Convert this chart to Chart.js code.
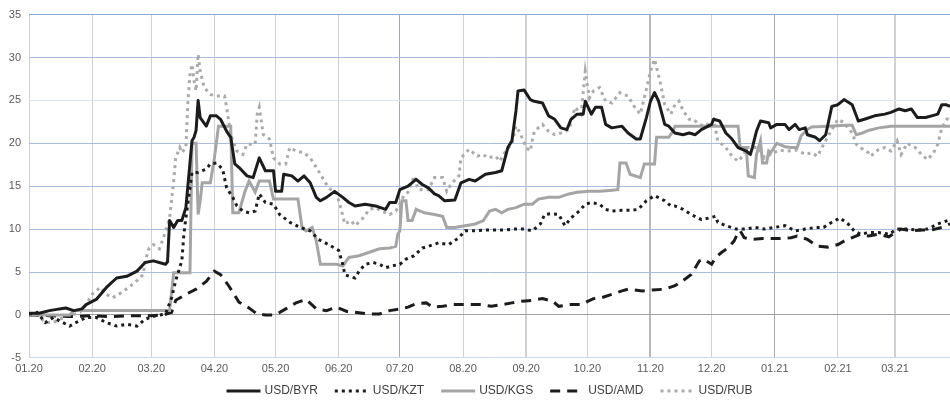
<!DOCTYPE html>
<html>
<head>
<meta charset="utf-8">
<script src="https://cdn.jsdelivr.net/npm/chart.js@4.4.1/dist/chart.umd.min.js"></script>
<style>
html, body { margin: 0; padding: 0; background: #fff; }
</style>
</head>
<body>
<canvas id="ratesChart" width="950" height="400"></canvas>
<script>
// month ticks: day index from 01.01.2020
const monthLabels = ['01.20', '02.20', '03.20', '04.20', '05.20', '06.20', '07.20', '08.20', '09.20', '10.20', '11.20', '12.20', '01.21', '02.21', '03.21'];
const monthDays = [0, 31, 60, 91, 121, 152, 182, 213, 244, 274, 305, 335, 366, 397, 425];
const seriesNames = ['USD/BYR', 'USD/KZT', 'USD/KGS', 'USD/AMD', 'USD/RUB'];

// [day, % change]
const usdByr = [[0,0.2],[5,0.2],[10,0.5],[15,0.7],[18,0.8],[22,0.5],[26,0.7],[28,1.2],[33,1.8],[38,3.2],[43,4.3],[48,4.5],[53,5.1],[57,6.1],[61,6.3],[67,5.9],[68,6.2],[69,11],[71,10.2],[73,11],[75,11],[77,12.5],[80,20.3],[81,20.7],[82,21.5],[83,25],[84,23],[87,22],[89,23.2],[92,23.2],[94,22.8],[97,21.4],[99,20.7],[101,17.6],[103,17.2],[107,16.2],[110,16],[113,18.3],[116,16.8],[120,16.8],[121,14.4],[124,14.4],[125,16.4],[129,16.2],[132,15.6],[135,16.2],[138,15.4],[141,13.7],[143,13.3],[146,13.7],[150,14.4],[154,13.7],[157,13.1],[160,12.7],[165,12.9],[170,12.7],[175,12.3],[177,13.1],[180,13.1],[182,14.6],[186,15],[190,15.8],[193,15.2],[196,14.8],[199,14.1],[201,13.9],[204,13.3],[209,13.4],[212,15.4],[216,15.8],[219,15.6],[224,16.4],[229,16.6],[232,16.8],[235,19.5],[237,20.3],[239,23.8],[240,26.1],[243,26.2],[246,25.1],[248,24.9],[252,24.7],[255,23.2],[258,22.8],[261,21.8],[264,21.6],[266,22.8],[269,23.4],[272,23.4],[273,24.9],[276,23.4],[278,24.2],[281,24.2],[283,22.2],[286,21.8],[291,22],[294,21.2],[298,20.5],[300,20.5],[303,23],[305,24.9],[307,25.9],[309,24.9],[312,22.2],[314,22],[317,21.2],[321,21],[324,21.2],[327,21],[330,21.6],[335,22.2],[336,22.8],[339,22.6],[342,21.2],[345,20.5],[348,19.5],[352,19.1],[354,18.7],[355,19.5],[357,21.4],[359,22.6],[363,22.4],[364,21.8],[367,22.2],[371,22.2],[373,21.6],[376,22.2],[378,21.6],[381,21.8],[382,21],[386,20.7],[388,20.3],[391,21],[394,24.3],[397,24.5],[400,25.1],[404,24.5],[407,22.6],[410,22.8],[415,23.2],[420,23.4],[423,23.6],[427,24],[430,23.8],[433,24],[436,23],[440,23],[443,23.2],[446,23.4],[448,24.5],[450,24.5],[452,24.3]];

const usdKzt = [[0,0.1],[4,0.3],[8,-0.9],[12,-0.3],[15,-0.7],[20,-1.3],[23,-0.9],[28,-0.3],[33,-0.3],[38,-0.9],[43,-1.3],[48,-1.1],[53,-1.3],[57,-0.5],[62,-0.1],[67,0.1],[70,2],[72,4],[75,6.3],[76,9.4],[77,11.3],[79,14.8],[80,16.6],[83,16.6],[87,17],[89,17.6],[92,17.7],[95,17],[97,14.8],[100,13.7],[102,12.7],[105,12.1],[108,11.9],[111,12.1],[113,14.1],[116,13.1],[120,12.9],[123,11.7],[128,10.8],[133,10.2],[138,9.8],[142,8.8],[147,8.2],[152,7.5],[154,5.9],[155,4.7],[157,4.5],[160,4.3],[162,5.1],[165,5.9],[169,6.1],[172,5.9],[175,5.5],[178,5.7],[182,5.9],[185,6.5],[189,6.9],[193,7.8],[196,8],[201,8.4],[206,8.2],[211,9],[214,9.8],[219,9.8],[224,9.9],[229,9.9],[234,9.9],[238,10],[243,10],[247,9.8],[251,10.6],[253,11.7],[256,11.8],[260,11.7],[263,10.4],[266,11.3],[270,12.1],[273,12.9],[276,13.1],[280,12.9],[283,12.3],[286,12.1],[291,12.2],[296,12.2],[299,12.3],[303,13.3],[307,13.9],[312,13.3],[315,12.7],[317,12.7],[321,12.3],[325,11.7],[330,11.1],[334,11.3],[337,11.5],[338,10.8],[342,10.4],[347,10],[352,10],[356,10.2],[361,10],[366,10.2],[371,10.4],[376,9.8],[381,10],[386,10.2],[390,10.2],[394,10.8],[398,11.3],[402,10.6],[405,9.8],[408,9.4],[412,9.6],[417,9.6],[422,9.4],[426,10],[431,10],[436,9.9],[441,10],[446,10.6],[452,11.1]];

const usdKgs = [[0,0],[20,0],[22,0.5],[69,0.5],[71,4.9],[79,4.9],[80,20],[82,20],[83,11.7],[84,13.3],[85,15.4],[89,15.4],[91,18.3],[93,22],[99,22],[100,11.9],[103,11.9],[106,14.4],[108,15.6],[111,14.3],[113,15.6],[118,15.6],[120,13.5],[132,13.5],[134,10.2],[136,9.8],[139,10.2],[141,8.6],[143,5.9],[151,5.9],[154,5.7],[157,6.7],[162,6.9],[167,7.3],[172,7.7],[177,7.8],[180,8],[181,9.4],[182,9.8],[183,13.3],[185,13.3],[186,11],[188,11],[190,12.3],[194,11.9],[199,11.7],[203,11.5],[205,10.2],[209,10.2],[214,10.4],[219,10.6],[223,11],[226,12.1],[229,12.3],[232,11.9],[235,12.3],[239,12.5],[243,12.9],[247,12.9],[250,13.5],[255,13.7],[260,13.7],[265,14.1],[269,14.3],[275,14.4],[280,14.4],[285,14.5],[289,14.6],[290,17.7],[293,17.7],[295,16.4],[300,16],[302,17.6],[307,17.6],[308,20.7],[314,20.7],[316,21.4],[317,22],[348,22],[349,19.5],[352,19.5],[353,16.2],[356,16],[357,18.7],[359,20.3],[360,17.7],[362,17.7],[363,19.1],[364,18.9],[367,20],[371,19.6],[374,19.5],[377,19.5],[379,20.9],[382,21.6],[384,21.9],[392,22],[401,22.1],[404,22.1],[406,21],[409,21.2],[412,21.5],[417,21.8],[423,22],[452,22]];

const usdAmd = [[0,0],[10,-0.1],[20,-0.2],[30,-0.1],[40,-0.2],[50,-0.1],[60,-0.1],[66,0],[70,0.3],[72,1.7],[77,2.4],[82,3],[87,3.9],[91,5.1],[94,4.7],[98,3.4],[103,1.5],[108,0.8],[112,0.1],[116,0],[121,0],[126,0.7],[131,1.4],[136,1.8],[141,0.7],[146,0.5],[151,0.9],[156,0.4],[160,0.3],[167,0.1],[172,0.1],[177,0.5],[182,0.7],[186,0.9],[190,1.3],[195,1.4],[198,0.9],[203,1],[208,1.2],[212,1.2],[217,1.2],[222,1.2],[227,1],[232,1.2],[237,1.4],[242,1.6],[247,1.7],[252,1.9],[257,1.6],[260,1],[265,1.2],[271,1.2],[277,1.9],[281,2],[286,2.4],[291,2.8],[294,3],[301,2.8],[306,2.9],[312,3],[317,3.4],[321,4],[325,4.7],[327,5.5],[329,6.3],[331,6.5],[335,5.9],[337,6.7],[340,7.3],[343,7.8],[346,8.6],[348,9.6],[349,9.8],[351,9],[355,8.8],[360,8.9],[368,8.9],[374,9],[377,9.2],[382,8.8],[387,8],[392,7.9],[397,8.2],[400,8.6],[404,9],[408,9.4],[412,9.2],[417,9.4],[422,9.1],[425,9.6],[428,10],[433,9.8],[438,9.9],[443,9.9],[448,10.2],[452,10.6]];

const usdRub = [[0,0],[4,0],[8,-0.9],[12,-0.9],[15,-0.5],[20,-0.1],[25,0.3],[28,1.2],[31,2.4],[35,3.2],[38,2.4],[41,2],[44,2.4],[49,3.2],[53,4],[56,4.7],[57,6.3],[59,7.8],[61,8.2],[64,7.7],[66,9],[69,11.3],[71,15.6],[72,18.3],[74,19.5],[75,18.9],[77,19.5],[78,24.9],[79,28],[80,29.2],[81,27.3],[82,26.1],[83,30.4],[84,28.4],[86,26.5],[89,25.7],[92,25.5],[96,25.5],[97,24.2],[99,21],[102,19.1],[105,18.7],[107,19.9],[111,19.9],[112,23.4],[113,24.2],[115,21],[118,20.5],[120,18.3],[123,17.6],[126,17.6],[128,19.5],[131,19.1],[135,18.9],[138,18.3],[141,17.2],[144,16],[147,14.8],[151,14.1],[153,12.5],[155,10.6],[158,11],[160,10.4],[164,11.3],[167,12.3],[170,12.5],[173,12.1],[177,11.7],[180,12.1],[181,12.5],[184,13.9],[186,14.3],[189,16.2],[191,14.6],[196,14.6],[199,16],[203,16],[205,14.4],[207,15.2],[211,16.2],[212,18.3],[216,19.3],[220,18.5],[223,18.7],[225,18.3],[229,18.5],[231,17.9],[234,19.1],[237,19.9],[239,22],[241,21.2],[244,19.5],[246,19.1],[247,20.3],[248,21.4],[252,22.2],[255,21.4],[258,21],[261,21.2],[265,21.6],[268,24.2],[271,23.4],[273,28.4],[275,25.3],[277,26.1],[280,26.5],[283,24.9],[286,24.7],[290,25.9],[294,25.5],[297,24.3],[300,23.4],[303,26.3],[305,28.4],[307,29.8],[310,26.9],[312,24.5],[315,23.4],[317,24.5],[319,24.9],[321,23.8],[324,22.8],[326,22.8],[329,22.2],[332,22],[336,22.8],[338,20.3],[342,19.5],[345,18.5],[348,17.9],[351,18.7],[352,19.5],[356,19.5],[358,19.5],[361,18.3],[364,18.7],[368,19.2],[372,19.1],[377,19.2],[381,18.7],[384,18.9],[387,18.5],[390,19.9],[394,21.6],[397,22.8],[400,22.4],[404,21.2],[406,19.9],[408,19.5],[412,18.9],[413,18.5],[417,19.3],[420,19.5],[423,19.1],[426,20.3],[428,18.7],[431,20],[435,19.5],[438,18.7],[441,18.1],[444,18.9],[446,19.9],[448,21.8],[451,23]];

const toPoints = arr => arr.map(p => ({x: p[0], y: p[1]}));
const tickFont = {family: "'Liberation Sans', Arial, sans-serif", size: 11};

function vGridColor(c) {
    const v = c.tick ? c.tick.value : 0;
    if (v === 182 || v === 366) return '#a9a9b3';
    if (v === 305) return '#b8b8b8';
    return '#cfcfd6';
}
function vGridWidth(c) {
    const v = c.tick ? c.tick.value : 0;
    if (v === 244 || v === 305 || v === 425) return 2;
    return 1;
}
function hGridColor(c) {
    const v = c.tick ? c.tick.value : 0;
    if (v === 0) return '#a0a0a0';
    if (v === 35) return '#8eaadb';
    if (v === 25) return '#dbe4f3';
    if (v === -5) return '#c9d6ee';
    return '#a9bde3';
}

// legend with line samples (built-in one drops the dash pattern)
const lineLegend = {
    id: 'lineLegend',
    afterDraw(chart) {
        const c = chart.ctx;
        const area = chart.chartArea;
        const sets = chart.data.datasets;
        c.save();
        c.font = "12px 'Liberation Sans', Arial, sans-serif";
        c.textBaseline = 'middle';
        const widths = sets.map(ds => c.measureText(ds.label).width);
        const total = widths.reduce((a, w) => a + w + 38, 0) + 17 * (sets.length - 1);
        let x = (area.left + area.right) / 2 - total / 2;
        const y = chart.height - 9;
        sets.forEach((ds, i) => {
            c.beginPath();
            c.setLineDash(ds.borderDash || []);
            c.lineWidth = ds.borderWidth;
            c.strokeStyle = ds.borderColor;
            c.moveTo(x, y);
            c.lineTo(x + 34, y);
            c.stroke();
            c.setLineDash([]);
            c.fillStyle = '#404040';
            c.fillText(ds.label, x + 38, y);
            x += 38 + widths[i] + 17;
        });
        c.restore();
    }
};

const ctx = document.getElementById('ratesChart').getContext('2d');
const ratesChart = new Chart(ctx, {
    type: 'line',
    data: {
        datasets: [
            {
                label: seriesNames[0],
                data: toPoints(usdByr),
                borderColor: '#1c1c1c',
                borderWidth: 3,
                pointRadius: 0,
                borderJoinStyle: 'round'
            },
            {
                label: seriesNames[1],
                data: toPoints(usdKzt),
                borderColor: '#1c1c1c',
                borderWidth: 3,
                borderDash: [3, 4],
                pointRadius: 0
            },
            {
                label: seriesNames[2],
                data: toPoints(usdKgs),
                borderColor: '#a5a5a5',
                borderWidth: 3,
                pointRadius: 0
            },
            {
                label: seriesNames[3],
                data: toPoints(usdAmd),
                borderColor: '#1c1c1c',
                borderWidth: 3,
                borderDash: [10, 7],
                pointRadius: 0
            },
            {
                label: seriesNames[4],
                data: toPoints(usdRub),
                borderColor: '#ababab',
                borderWidth: 3,
                borderDash: [3, 4],
                pointRadius: 0
            }
        ]
    },
    plugins: [lineLegend],
    options: {
        responsive: false,
        animation: false,
        layout: {
            padding: {top: 8, right: 0, bottom: 19, left: 0}
        },
        plugins: {
            legend: {display: false},
            tooltip: {enabled: false}
        },
        scales: {
            x: {
                type: 'linear',
                min: 0,
                max: 452,
                afterBuildTicks: function(scale) {
                    scale.ticks = monthDays.map(v => ({value: v}));
                },
                ticks: {
                    autoSkip: false,
                    maxRotation: 0,
                    padding: 5,
                    color: '#595959',
                    font: tickFont,
                    callback: function(value) {
                        return monthLabels[monthDays.indexOf(value)];
                    }
                },
                grid: {
                    drawTicks: false,
                    color: vGridColor,
                    lineWidth: vGridWidth
                },
                border: {display: false}
            },
            y: {
                min: -5,
                max: 35,
                afterFit: function(scale) {
                    scale.width = 29;
                },
                ticks: {
                    stepSize: 5,
                    padding: 8,
                    color: '#595959',
                    font: tickFont
                },
                grid: {
                    drawTicks: false,
                    color: hGridColor
                },
                border: {display: false}
            }
        }
    }
});
</script>
</body>
</html>
